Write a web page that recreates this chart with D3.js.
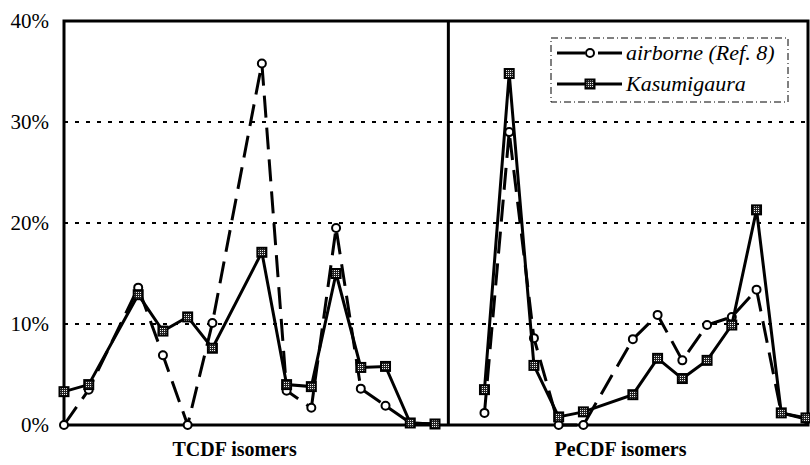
<!DOCTYPE html>
<html>
<head>
<meta charset="utf-8">
<script src="https://cdn.jsdelivr.net/npm/d3@7"></script>
<style>
  body { margin: 0; background: #fff; }
  text { font-family: "Liberation Serif", "Times New Roman", serif; fill: #000; }
</style>
</head>
<body>
<div id="chart"></div>
<script>
// Isomer profiles (% of homologue total); null = isomer not reported
const tcdfAirborne = [0, 3.5, null, 13.6, 6.9, 0, 10.1, null, 35.8, 3.4, 1.7, 19.5, 3.6, 1.9, 0.2, 0.1];
const tcdfKasumi   = [3.3, 4.0, null, 12.9, 9.3, 10.7, 7.6, null, 17.1, 4.0, 3.8, 15.0, 5.7, 5.8, 0.2, 0.1];
const pecdfAirborne = [null, 1.2, 29.0, 8.6, 0, 0, null, 8.5, 10.9, 6.4, 9.9, 10.7, 13.4, 1.2, 0.6];
const pecdfKasumi   = [null, 3.5, 34.8, 5.9, 0.8, 1.3, null, 3.0, 6.6, 4.6, 6.4, 9.9, 21.3, 1.2, 0.7];

const yTicks = [0, 10, 20, 30, 40];
const gridValues = [10, 20, 30];
const groupLabels = ["TCDF isomers", "PeCDF isomers"];
const seriesNames = ["airborne (Ref. 8)", "Kasumigaura"];

const width = 810, height = 465;
const nPositions = 31; // 16 TCDF slots + 15 PeCDF slots

const svg = d3.select("#chart").append("svg")
  .attr("width", width)
  .attr("height", height);

const x = d3.scaleLinear().domain([0, nPositions - 1]).range([64, 806]);
const y = d3.scaleLinear().domain([0, 40]).range([425, 21]);

// dotted fill for the square markers
const defs = svg.append("defs");
const pat = defs.append("pattern")
  .attr("id", "dots")
  .attr("width", 2).attr("height", 2)
  .attr("patternUnits", "userSpaceOnUse");
pat.append("rect").attr("width", 2).attr("height", 2).attr("fill", "#222");
pat.append("rect").attr("width", 1).attr("height", 1).attr("fill", "#eee");

// gridlines
svg.append("g")
  .selectAll("line")
  .data(gridValues)
  .join("line")
  .attr("x1", x(0)).attr("x2", x(nPositions - 1) + 2)
  .attr("y1", d => y(d)).attr("y2", d => y(d))
  .attr("stroke", "#000")
  .attr("stroke-width", 2)
  .attr("stroke-dasharray", "4,7");

// y axis labels
svg.append("g")
  .selectAll("text")
  .data(yTicks)
  .join("text")
  .attr("x", 49)
  .attr("y", d => y(d) + 7)
  .attr("text-anchor", "end")
  .attr("font-size", 21)
  .text(d => d + "%");

// frame and divider
svg.append("rect")
  .attr("x", x(0)).attr("y", y(40))
  .attr("width", 808 - x(0)).attr("height", y(0) - y(40))
  .attr("fill", "none")
  .attr("stroke", "#000")
  .attr("stroke-width", 3);

svg.append("line")
  .attr("x1", x(15.5) + 1).attr("x2", x(15.5) + 1)
  .attr("y1", y(40)).attr("y2", y(0))
  .attr("stroke", "#000")
  .attr("stroke-width", 3);

// group labels
svg.append("g")
  .selectAll("text")
  .data(groupLabels)
  .join("text")
  .attr("x", (d, i) => i === 0 ? x(6.9) : x(22.5))
  .attr("y", 456)
  .attr("text-anchor", "middle")
  .attr("font-size", 20)
  .attr("font-weight", "bold")
  .text(d => d);

function toPoints(values, offset) {
  return values
    .map((v, i) => ({ i: i + offset, v: v }))
    .filter(d => d.v != null);
}

const line = d3.line().x(d => x(d.i)).y(d => y(d.v));

function drawAirborne(values, offset) {
  const pts = toPoints(values, offset);
  svg.append("path")
    .datum(pts)
    .attr("d", line)
    .attr("fill", "none")
    .attr("stroke", "#000")
    .attr("stroke-width", 3)
    .attr("stroke-dasharray", "22,10");
  svg.append("g")
    .selectAll("circle")
    .data(pts)
    .join("circle")
    .attr("cx", d => x(d.i))
    .attr("cy", d => y(d.v))
    .attr("r", 4)
    .attr("fill", "#fff")
    .attr("stroke", "#000")
    .attr("stroke-width", 2);
}

function drawKasumi(values, offset) {
  const pts = toPoints(values, offset);
  svg.append("path")
    .datum(pts)
    .attr("d", line)
    .attr("fill", "none")
    .attr("stroke", "#000")
    .attr("stroke-width", 3);
  svg.append("g")
    .selectAll("rect")
    .data(pts)
    .join("rect")
    .attr("x", d => x(d.i) - 4.5)
    .attr("y", d => y(d.v) - 4.5)
    .attr("width", 9).attr("height", 9)
    .attr("fill", "url(#dots)")
    .attr("stroke", "#000")
    .attr("stroke-width", 2);
}

drawAirborne(tcdfAirborne, 0);
drawAirborne(pecdfAirborne, 16);
drawKasumi(tcdfKasumi, 0);
drawKasumi(pecdfKasumi, 16);

// legend
const legend = svg.append("g");
legend.append("rect")
  .attr("x", 551).attr("y", 38)
  .attr("width", 237).attr("height", 64)
  .attr("fill", "#fff")
  .attr("stroke", "#000")
  .attr("stroke-width", 1)
  .attr("stroke-dasharray", "7,3,1,3");

// airborne entry: dash, marker, dash
legend.append("line")
  .attr("x1", 557).attr("x2", 585)
  .attr("y1", 53).attr("y2", 53)
  .attr("stroke", "#000").attr("stroke-width", 3);
legend.append("line")
  .attr("x1", 598).attr("x2", 622)
  .attr("y1", 53).attr("y2", 53)
  .attr("stroke", "#000").attr("stroke-width", 3);
legend.append("circle")
  .attr("cx", 590).attr("cy", 53).attr("r", 4)
  .attr("fill", "#fff").attr("stroke", "#000").attr("stroke-width", 2);

// Kasumigaura entry
legend.append("line")
  .attr("x1", 557).attr("x2", 622)
  .attr("y1", 84).attr("y2", 84)
  .attr("stroke", "#000").attr("stroke-width", 3);
legend.append("rect")
  .attr("x", 585.5).attr("y", 79.5).attr("width", 9).attr("height", 9)
  .attr("fill", "url(#dots)").attr("stroke", "#000").attr("stroke-width", 2);

legend.selectAll("text.lbl")
  .data(seriesNames)
  .join("text")
  .attr("class", "lbl")
  .attr("x", 626)
  .attr("y", (d, i) => i === 0 ? 60 : 91)
  .attr("font-size", 22)
  .attr("font-style", "italic")
  .text(d => d);
</script>
</body>
</html>
